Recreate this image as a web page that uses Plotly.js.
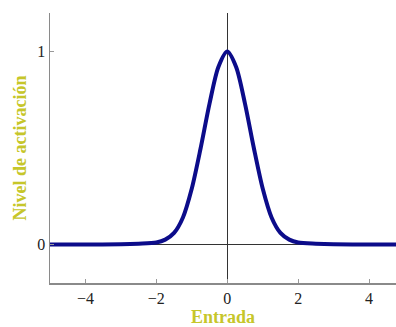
<!DOCTYPE html>
<html>
<head>
<meta charset="utf-8">
<script src="https://cdn.plot.ly/plotly-3.0.1.min.js"></script>
<style>
  html, body { margin: 0; padding: 0; background: #fff; }
  #chart { width: 396px; height: 327px; }
</style>
</head>
<body>
<div id="chart"></div>
<script>
// Input values and the activation level of the radial unit
const entrada = [-5, -4, -3, -2.5, -2, -1.75, -1.5, -1.25, -1, -0.75, -0.5, -0.25, 0,
                 0.25, 0.5, 0.75, 1, 1.25, 1.5, 1.75, 2, 2.5, 3, 4, 5];
const activacion = [0, 0, 0.001, 0.004, 0.01, 0.025, 0.06, 0.14, 0.29, 0.5, 0.73, 0.92, 1,
                    0.92, 0.73, 0.5, 0.29, 0.14, 0.06, 0.025, 0.01, 0.004, 0.001, 0, 0];

const xTicks = [-4, -2, 0, 2, 4];
const yTicks = [0, 1];

const serif = "Liberation Serif, Times New Roman, serif";
const titleColor = "#c6c62a";

const trace = {
  x: entrada,
  y: activacion,
  type: "scatter",
  mode: "lines",
  line: { color: "#0c0c8a", width: 4, shape: "spline", smoothing: 0.8 },
  hoverinfo: "skip"
};

const layout = {
  width: 396,
  height: 327,
  margin: { l: 50, r: 0, t: 13, b: 44, pad: 0 },
  paper_bgcolor: "#ffffff",
  plot_bgcolor: "#ffffff",
  showlegend: false,
  xaxis: {
    range: [-5, 4.76],
    tickmode: "array",
    tickvals: xTicks,
    ticks: "inside",
    ticklen: 4,
    tickcolor: "#999",
    showgrid: false,
    showline: true,
    linecolor: "#8a8a8a",
    linewidth: 1.5,
    zeroline: true,
    zerolinecolor: "#333",
    zerolinewidth: 1.5,
    tickfont: { family: serif, size: 16, color: "#222" },
    title: {
      text: "<b>Entrada</b>",
      font: { family: serif, size: 18, color: titleColor },
      standoff: 4
    },
    fixedrange: true
  },
  yaxis: {
    range: [-0.2, 1.2],
    tickmode: "array",
    tickvals: yTicks,
    ticks: "inside",
    ticklen: 4,
    tickcolor: "#999",
    showgrid: false,
    showline: true,
    linecolor: "#8a8a8a",
    linewidth: 1.5,
    zeroline: true,
    zerolinecolor: "#333",
    zerolinewidth: 1.5,
    tickfont: { family: serif, size: 16, color: "#222" },
    title: {
      text: "<b>Nivel de activación</b>",
      font: { family: serif, size: 18, color: titleColor },
      standoff: 6
    },
    fixedrange: true
  }
};

Plotly.newPlot("chart", [trace], layout, { staticPlot: true, displayModeBar: false });
</script>
</body>
</html>
